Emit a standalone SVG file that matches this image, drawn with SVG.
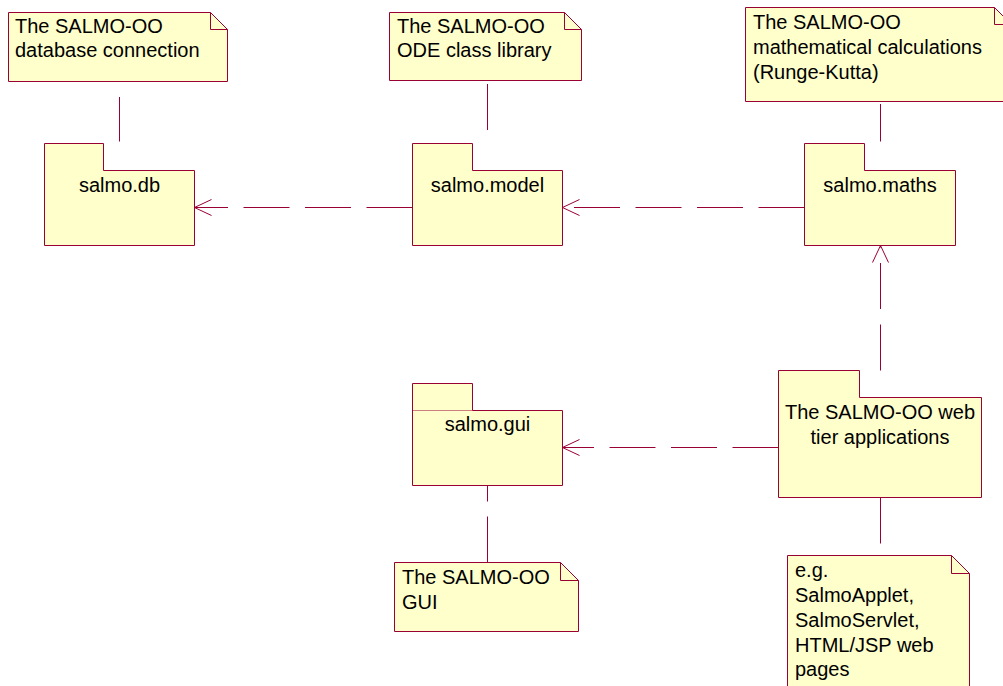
<svg xmlns="http://www.w3.org/2000/svg" width="1003" height="686" viewBox="0 0 1003 686">
  <defs>
    <style>
      .shape { fill: #ffffcc; stroke: #990033; stroke-width: 1; }
      .fold { fill: none; stroke: #990033; stroke-width: 1; }
      .label { font-family: "Liberation Sans", Arial, sans-serif; font-size: 20px; fill: #000000; }
      .pkg-label { text-anchor: middle; }
      .dep { fill: none; stroke: #990033; stroke-width: 1; stroke-dasharray: 46 15.5; }
      .anchor { fill: none; stroke: #990033; stroke-width: 1; }
    </style>
    <!-- open arrowhead; tip sits on the line end, wings trail back along the line -->
    <marker id="open-arrow" markerUnits="userSpaceOnUse" markerWidth="20" markerHeight="20" viewBox="-19 -10 20 20" refX="0" refY="0" orient="auto">
      <path d="M-17,-8 L0,0 L-17,8" fill="none" stroke="#990033" stroke-width="1"/>
    </marker>
  </defs>

  <rect width="1003" height="686" fill="#ffffff"/>

  <!-- packages -->
  <g id="pkg-db">
    <path class="shape" d="M44.5,143.5 H103.5 V170.5 H194.5 V245.5 H44.5 Z"/>
    <text class="label pkg-label" x="119.5" y="192">salmo.db</text>
  </g>
  <g id="pkg-model">
    <path class="shape" d="M412.5,143.5 H472.5 V170.5 H562.5 V245.5 H412.5 Z"/>
    <text class="label pkg-label" x="487.5" y="192">salmo.model</text>
  </g>
  <g id="pkg-maths">
    <path class="shape" d="M804.5,143.5 H864.5 V170.5 H955.5 V245.5 H804.5 Z"/>
    <text class="label pkg-label" x="880" y="192">salmo.maths</text>
  </g>
  <g id="pkg-gui">
    <path class="shape" d="M412.5,383.5 H472.5 V410.5 H562.5 V485.5 H412.5 Z"/>
    <path class="fold" d="M412.5,410.5 H472.5" stroke-opacity="0.5"/>
    <text class="label pkg-label" x="487.5" y="431">salmo.gui</text>
  </g>
  <g id="pkg-web">
    <path class="shape" d="M778.5,370.5 H859.5 V397.5 H981.5 V497.5 H778.5 Z"/>
    <text class="label pkg-label" x="880" y="419">The SALMO-OO web</text>
    <text class="label pkg-label" x="880" y="443.5">tier applications</text>
  </g>

  <!-- notes -->
  <g id="note-db">
    <path class="shape" d="M8.5,12.5 H210.5 L227.5,29.5 V81.5 H8.5 Z"/>
    <path class="fold" d="M210.5,12.5 V29.5 H227.5"/>
    <text class="label" x="15" y="33">The SALMO-OO</text>
    <text class="label" x="15" y="57">database connection</text>
  </g>
  <g id="note-model">
    <path class="shape" d="M389.5,12.5 H564.5 L581.5,29.5 V80.5 H389.5 Z"/>
    <path class="fold" d="M564.5,12.5 V29.5 H581.5"/>
    <text class="label" x="397" y="32.5">The SALMO-OO</text>
    <text class="label" x="397" y="57">ODE class library</text>
  </g>
  <g id="note-maths">
    <path class="shape" d="M745.5,7.5 H994.5 L1011.5,24.5 V101.5 H745.5 Z"/>
    <path class="fold" d="M994.5,7.5 V24.5 H1011.5"/>
    <text class="label" x="753" y="28.5">The SALMO-OO</text>
    <text class="label" x="753" y="53.5">mathematical calculations</text>
    <text class="label" x="753" y="78.5">(Runge-Kutta)</text>
  </g>
  <g id="note-gui">
    <path class="shape" d="M394.5,562.5 H560.5 L578.5,580.5 V631.5 H394.5 Z"/>
    <path class="fold" d="M560.5,562.5 V580.5 H578.5"/>
    <text class="label" x="402" y="584">The SALMO-OO</text>
    <text class="label" x="402" y="608.5">GUI</text>
  </g>
  <g id="note-web">
    <path class="shape" d="M787.5,555.5 H951.5 L969.5,573.5 V700 H787.5 Z"/>
    <path class="fold" d="M951.5,555.5 V573.5 H969.5"/>
    <text class="label" x="795" y="577">e.g.</text>
    <text class="label" x="795" y="602">SalmoApplet,</text>
    <text class="label" x="795" y="627">SalmoServlet,</text>
    <text class="label" x="795" y="652">HTML/JSP web</text>
    <text class="label" x="795" y="676">pages</text>
  </g>

  <!-- connectors: dependencies and note anchors -->
  <g id="connectors">
    <path class="dep" d="M412.5,207.5 H194.5" marker-end="url(#open-arrow)"/>
    <path class="dep" d="M804.5,207.5 H562.5" marker-end="url(#open-arrow)"/>
    <path class="dep" d="M778.5,447.5 H562.5" marker-end="url(#open-arrow)"/>
    <path class="dep" d="M880.5,370.5 V245.5" marker-end="url(#open-arrow)"/>
    <path class="anchor" d="M119.5,97 V141.5"/>
    <path class="anchor" d="M487.5,84 V130"/>
    <path class="anchor" d="M880.5,104 V141.5"/>
    <path class="anchor" d="M487.5,485.5 V501.5 M487.5,516.5 V562.5"/>
    <path class="anchor" d="M880.5,497.5 V543.5"/>
  </g>
</svg>
